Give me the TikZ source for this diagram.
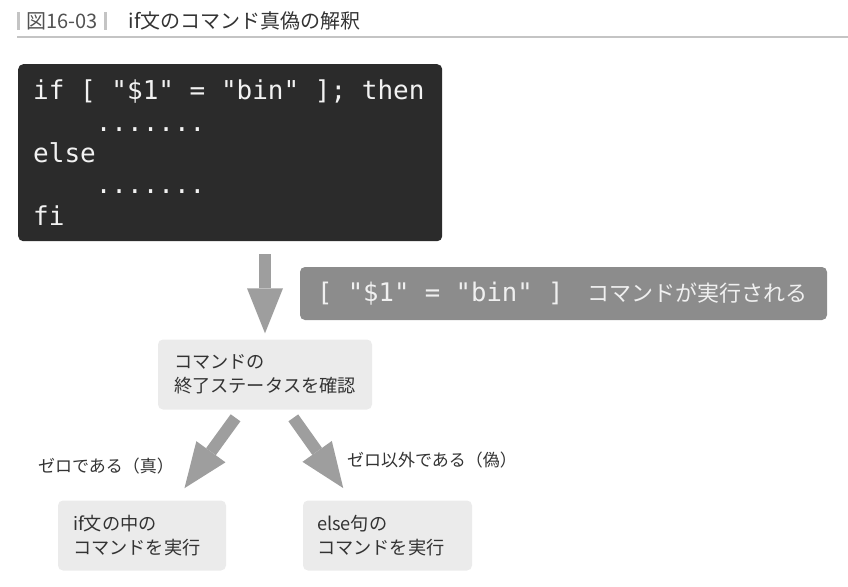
\documentclass[tikz,border=0pt]{standalone}
\usepackage{fontspec}
\setmainfont{Noto Sans CJK JP}
\setmonofont{DejaVu Sans Mono}
\usetikzlibrary{arrows.meta,positioning,calc}

\definecolor{codebg}{HTML}{2B2B2B}
\definecolor{cmdbg}{HTML}{8C8C8C}
\definecolor{boxbg}{HTML}{EBEBEB}
\definecolor{flechagris}{HTML}{9E9E9E}
\definecolor{textogris}{HTML}{333333}
\definecolor{lineagris}{HTML}{C4C4C4}

\newcommand\esp{\phantom{x}}   % espacio de ancho fijo

\tikzset{
  codigo/.style={fill=codebg, text=white!95!black, rounded corners=5pt, align=left,
    text width=394pt, inner xsep=15pt, minimum height=177pt,
    font=\fontsize{26}{31.3}\selectfont\ttfamily},
  comando/.style={fill=cmdbg, text=white!94!black, rounded corners=5pt, align=left,
    text width=493pt, inner xsep=17pt, minimum height=53pt},
  caja/.style={fill=boxbg, text=textogris, rounded corners=5pt, align=left,
    minimum height=70pt, font=\fontsize{18.2}{24.5}\selectfont},
  etiqueta/.style={text=textogris, inner sep=0pt, font=\fontsize{17}{20}\selectfont},
  flecha/.style={draw=flechagris, line width=12pt,
    -{Triangle[width=36pt,length=45pt,line width=0pt]}},
}

\begin{document}
\begin{tikzpicture}[x=1pt, y=-1pt]
            \useasboundingbox (0,0) rectangle (848,586);

            % titulo
            \node[inner xsep=7.5pt, inner ysep=0pt, text=textogris!85, font=\fontsize{20}{20}\selectfont] (fignum) at (62,21) {図16-03};
            \draw[lineagris, line width=2.5pt] (fignum.north west) -- (fignum.south west);
            \draw[lineagris, line width=2.5pt] (fignum.north east) -- (fignum.south east);
            \node[right=23pt of fignum, inner sep=0pt, text=textogris, font=\fontsize{20}{20}\selectfont] (titulo) {if文のコマンド真偽の解釈};
            \draw[lineagris, line width=1.5pt] (17,37) -- (848,37);

            % cajas
            \node[codigo, anchor=north west] (code) at (18,64)
                {if\esp[\esp"\$1"\esp=\esp"bin"\esp];\esp then\\
                 \esp\esp\esp\esp.......\\
                 else\\
                 \esp\esp\esp\esp.......\\
                 fi};
            \node[comando] (cmd) at (563.5,293.5)
                {{\fontsize{25.6}{26}\selectfont\ttfamily [\esp"\$1"\esp=\esp"bin"\esp]}\hspace{24pt}{\fontsize{22}{26}\selectfont コマンドが実行される}};
            \node[caja, minimum width=214pt, text width=182pt, inner xsep=16pt] (chk) at (265,374.5)
                {コマンドの\\終了ステータスを確認};
            \node[caja, minimum width=168pt, text width=138pt, inner xsep=15pt] (lbox) at (142,535.5)
                {if文の中の\\コマンドを実行};
            \node[caja, minimum width=169pt, text width=141pt, inner xsep=14pt] (rbox) at (387.5,535.5)
                {else句の\\コマンドを実行};

            % flechas
            \draw[flecha, shorten <=13pt, shorten >=6pt] (chk.north |- code.south) -- (chk.north);
            \draw[flecha, shorten <=10pt, shorten >=15pt]
                ($(chk.south west)!.39!(chk.south east)$) -- ($(lbox.north west)!.70!(lbox.north east)$);
            \draw[flecha, shorten <=10pt, shorten >=15pt]
                ($(chk.south west)!.605!(chk.south east)$) -- ($(rbox.north west)!.29!(rbox.north east)$);

            \node[etiqueta] (cero) at (106,466) {ゼロである（真）};
            \node[etiqueta] (nocero) at (432,460) {ゼロ以外である（偽）};
\end{tikzpicture}
\end{document}
